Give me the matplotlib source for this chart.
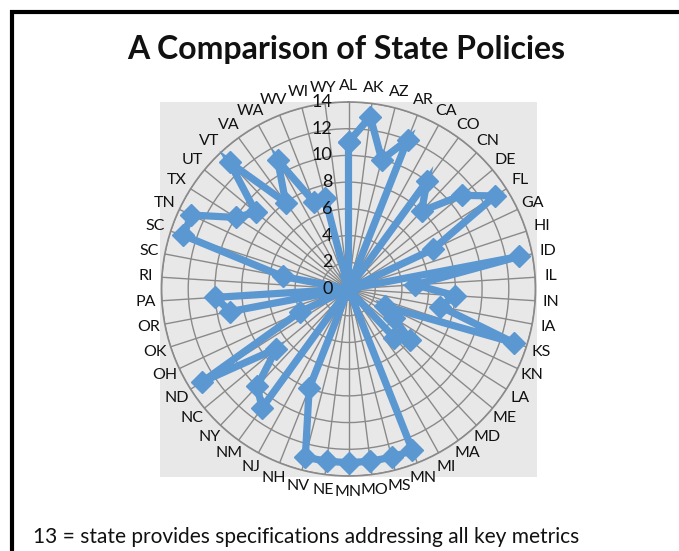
import numpy as np
import matplotlib
matplotlib.use("Agg")
import matplotlib.pyplot as plt
from matplotlib.patches import Rectangle
from matplotlib.transforms import offset_copy

plt.rcParams['font.family'] = ['Lato', 'DejaVu Sans']

states = ["AL", "AK", "AZ", "AR", "CA", "CO", "CN", "DE", "FL", "GA",
          "HI", "ID", "IL", "IN", "IA", "KS", "KN", "LA", "ME", "MD",
          "MA", "MI", "MN", "MS", "MO", "MN", "NE", "NV", "NH", "NJ",
          "NM", "NY", "NC", "ND", "OH", "OK", "OR", "PA", "RI", "SC",
          "SC", "TN", "TX", "UT", "VT", "VA", "WA", "WV", "WI", "WY"]
scores = [11, 13, 10, 12, 0, 10, 8, 11, 13, 7,
          0, 13, 5, 8, 7, 13, 3, 4, 6, 5,
          0, 0, 13, 13, 13, 13, 13, 13, 8, 0,
          11, 10, 7, 13, 4, 0, 9, 10, 0, 5,
          13, 13, 10, 9, 13, 8, 11, 7, 7, 0]
r_ticks = [0, 2, 4, 6, 8, 10, 12, 14]
title = "A Comparison of State Policies"
note = "13 = state provides specifications addressing all key metrics"

W, H = 679, 551
fig = plt.figure(figsize=(W / 100, H / 100), dpi=100)
fig.patch.set_facecolor("white")

# outer frame
frame = Rectangle((12 / W, -0.2), 1.5, 1 - 12 / H + 0.2,
                  transform=fig.transFigure, fill=False,
                  edgecolor="black", lw=3, zorder=-2)
fig.add_artist(frame)
# gray plot area
area = Rectangle((160 / W, 1 - 477 / H), 377 / W, 375.5 / H,
                 transform=fig.transFigure, facecolor="#E8E8E8",
                 edgecolor="none", zorder=-1)
fig.add_artist(area)

cx, cy, R = 348.5, 289.0, 187.0
ax = fig.add_axes([(cx - R) / W, (H - cy - R) / H, 2 * R / W, 2 * R / H],
                  projection="polar")
ax.set_zorder(1)
ax.set_facecolor("none")
ax.set_theta_zero_location("N")
ax.set_theta_direction(-1)

n = len(states)
theta = np.arange(n) * 2 * np.pi / n
ax.set_ylim(0, 14)
ax.set_yticks(r_ticks)
ax.set_yticklabels([])
ax.set_xticks(theta)
ax.set_xticklabels(states, fontsize=11.5, color="#111111")
ax.tick_params(axis="x", pad=1.0)
ax.grid(True, color="#8A8A8A", lw=1.0)
ax.spines["polar"].set_color("#8A8A8A")
ax.spines["polar"].set_linewidth(1.2)

tr = offset_copy(ax.transData, fig=fig, x=-16, y=0, units="dots")
for r in r_ticks:
    ax.text(0, r, str(r), transform=tr, ha="right", va="center",
            fontsize=13, color="#111111", zorder=5)

t_closed = np.append(theta, theta[0])
v_closed = np.append(scores, scores[0])
ax.plot(t_closed, v_closed, color="#5B97D1", lw=5.2, marker="D",
        markersize=11, markeredgecolor="#5B97D1", solid_joinstyle="miter",
        zorder=4, clip_on=False)

fig.text(346.5 / W, 1 - 50 / H, title, ha="center", va="center",
         fontsize=23, fontweight="bold", color="#111111")
fig.text(33 / W, 1 - 537 / H, note, ha="left", va="center",
         fontsize=15, color="#111111")

fig.savefig("out.png", dpi=100)
